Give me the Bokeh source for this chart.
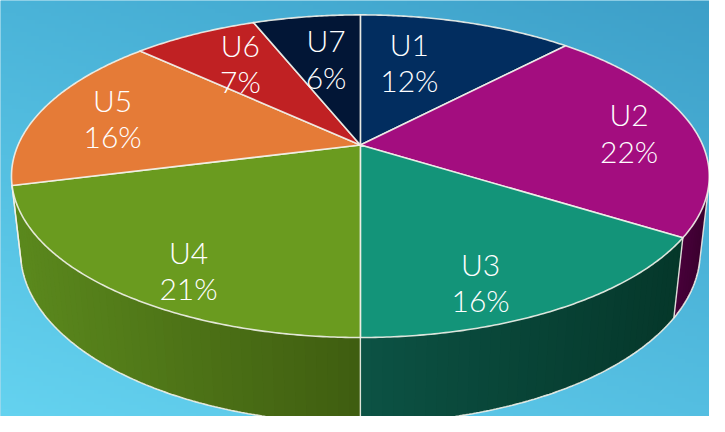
import math
import numpy as np
from bokeh.plotting import figure
from bokeh.models import Range1d, ColumnDataSource
from bokeh.core.properties import value
from bokeh.embed import file_html
from bokeh.resources import INLINE

# ---------------- data ----------------
categories = ["U1", "U2", "U3", "U4", "U5", "U6", "U7"]
shares = [12, 22, 16, 21, 16, 7, 6]
pct_labels = ["12%", "22%", "16%", "21%", "16%", "7%", "6%"]

# ---------------- style ----------------
top_colors = ["#022d5f", "#a30d7f", "#139479", "#6a9b1f", "#e57b37", "#c02123", "#021636"]
# side wall colours: (screen-left end, screen-right end)
side_left = ["#032a55", "#48003a", "#0c5244", "#5b891d", "#b0582a", "#8a1518", "#02102a"]
side_right = ["#021e40", "#3a002e", "#05372a", "#3f5d10", "#8a4420", "#6a1012", "#010a1c"]
edge_color = "#f2f2ea"
label_nudge = [(-35, 13), (19, 2), (-22, 21), (6, 22), (-8, 1), (9, 4), (8, 14)]
FONT = "Lato Light, Lato"

W_REF, H_REF = 725, 432
# camera model (reference pixel space, y downward)
CX, CY = 368.0, 150.0
ELEV = math.radians(27.43)
DIST = 4.58
FOC = 1603.0
DEPTH = 0.255


def proj(phi_deg, r=1.0, z=0.0):
    ph = np.radians(phi_deg)
    X = r * np.sin(ph)
    Y = r * np.cos(ph)
    d = Y * math.cos(ELEV) + DIST - z * math.sin(ELEV)
    yc = Y * math.sin(ELEV) + z * math.cos(ELEV)
    sx = CX + FOC * X / d
    sy = CY - FOC * yc / d
    return sx, H_REF - sy   # convert to data coords (y up)


def hex2rgb(h):
    h = h.lstrip("#")
    return np.array([int(h[i:i + 2], 16) for i in (0, 2, 4)], dtype=float)


def rgb2hex(c):
    c = np.clip(np.round(c), 0, 255).astype(int)
    return "#%02x%02x%02x" % tuple(c)


p = figure(width=709, height=416, output_backend="svg", toolbar_location=None,
           x_range=Range1d(0, W_REF), y_range=Range1d(0, H_REF), min_border=0)
p.axis.visible = False
p.grid.visible = False
p.outline_line_color = None
p.background_fill_color = "#4fb8dc"
p.border_fill_color = "#4fb8dc"

# ---------------- background gradient ----------------
rows, cols = 108, 181
tl, tr = hex2rgb("#4ab3d8"), hex2rgb("#3d9fc8")
bl, br = hex2rgb("#64d2ef"), hex2rgb("#54bee1")
u = np.linspace(0, 1, cols)[None, :, None]
v = np.linspace(0, 1, rows)[:, None, None]  # 0 = bottom
bottom = bl * (1 - u) + br * u
top = tl * (1 - u) + tr * u
grad = bottom * (1 - v) + top * v
img = np.empty((rows, cols), dtype=np.uint32)
view = img.view(dtype=np.uint8).reshape((rows, cols, 4))
view[:, :, :3] = np.round(grad).astype(np.uint8)
view[:, :, 3] = 255
p.image_rgba(image=[img], x=0, y=0, dw=W_REF, dh=H_REF)

# ---------------- slice angles ----------------
total = float(sum(shares))
starts, ends = [], []
acc = 0.0
for s in shares:
    starts.append(acc / total * 360.0)
    acc += s
    ends.append(acc / total * 360.0)

# visible part of the cylinder wall
kc = DIST * math.cos(ELEV)
vis_a = math.degrees(math.acos(-1.0 / kc))
vis_b = 360.0 - vis_a

# ---------------- side wall ----------------
base_xs, base_ys, base_cols = [], [], []
xs_side, ys_side, cols_side = [], [], []
for i in range(len(shares)):
    a = max(starts[i], vis_a)
    b = min(ends[i], vis_b)
    if b <= a:
        continue
    n = max(2, int((b - a) / 1.5))
    phis = np.linspace(a, b, n + 1)
    xa, xb = proj(a)[0], proj(b)[0]
    x_min, x_max = min(xa, xb), max(xa, xb)
    cl, cr = hex2rgb(side_left[i]), hex2rgb(side_right[i])
    tx, ty = proj(phis)
    bx_, by_ = proj(phis, 1.0, -DEPTH)
    base_xs.append(list(tx) + list(bx_[::-1]))
    base_ys.append(list(ty) + list(by_[::-1]))
    base_cols.append(rgb2hex(0.5 * (cl + cr)))
    step = phis[1] - phis[0]
    for j in range(n):
        p0 = phis[j]
        p1 = min(phis[j + 1] + 0.6 * step, b)
        tx0, ty0 = proj(p0)
        tx1, ty1 = proj(p1)
        bx0, by0 = proj(p0, 1.0, -DEPTH)
        bx1, by1 = proj(p1, 1.0, -DEPTH)
        xs_side.append([tx0, tx1, bx1, bx0])
        ys_side.append([ty0, ty1, by1, by0])
        xm = proj(0.5 * (phis[j] + phis[j + 1]))[0]
        t = (xm - x_min) / (x_max - x_min) if x_max > x_min else 0.5
        t = min(max(t, 0.0), 1.0)   # 0 = screen left, 1 = screen right
        cols_side.append(rgb2hex(cl * (1 - t) + cr * t))
p.patches(base_xs, base_ys, fill_color=base_cols, line_color=None)
p.patches(xs_side, ys_side, fill_color=cols_side, line_color=None)

# bottom rim and vertical edges
bphi = np.linspace(vis_a, vis_b, 300)
bx, by = proj(bphi, 1.0, -DEPTH)
p.line(bx, by, line_color=edge_color, line_width=1.6, line_alpha=0.9)
edge_angles = [vis_a, vis_b] + [e for e in ends if vis_a < e < vis_b]
for ang in edge_angles:
    x0, y0 = proj(ang)
    x1, y1 = proj(ang, 1.0, -DEPTH)
    p.line([x0, x1], [y0, y1], line_color=edge_color, line_width=1.4, line_alpha=0.9)

# ---------------- top face ----------------
xs_top, ys_top = [], []
for i in range(len(shares)):
    phis = np.linspace(starts[i], ends[i], max(3, int((ends[i] - starts[i]) / 0.5)))
    rx, ry = proj(phis)
    cx0, cy0 = proj(0.0, 0.0)
    xs_top.append([cx0] + list(rx))
    ys_top.append([cy0] + list(ry))
p.patches(xs_top, ys_top, fill_color=top_colors, line_color=edge_color,
          line_width=1.6, line_alpha=0.9, line_join="round")

# ---------------- labels ----------------
name_x, name_y, pct_x, pct_y = [], [], [], []
for i in range(len(shares)):
    mid = 0.5 * (starts[i] + ends[i])
    lx, ly = proj(mid, 0.75)
    lx += label_nudge[i][0]
    ly -= label_nudge[i][1]
    name_x.append(lx)
    name_y.append(ly + 19)
    pct_x.append(lx)
    pct_y.append(ly - 19)

src = ColumnDataSource(dict(nx=name_x, ny=name_y, px=pct_x, py=pct_y,
                            name=categories, pct=pct_labels))
for xk, yk, tk in (("nx", "ny", "name"), ("px", "py", "pct")):
    p.text(x=xk, y=yk, text=tk, source=src, text_color="white",
           text_font=value(FONT), text_font_size="30px",
           text_align="center", text_baseline="middle")

open("out.html", "w").write(file_html(p, INLINE))
